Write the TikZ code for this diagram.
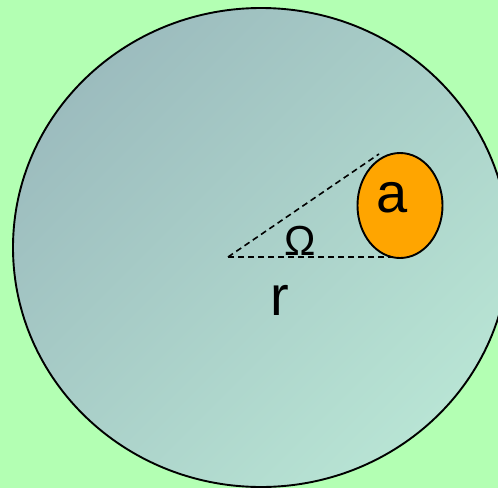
\documentclass[tikz,border=0pt]{standalone}
\usepackage{fontspec}
\setmainfont{Liberation Sans}
\usetikzlibrary{shapes.geometric}
\definecolor{bg}{RGB}{179,255,179}
\definecolor{discA}{RGB}{156,188,190}
\definecolor{discB}{RGB}{184,228,212}
\definecolor{orng}{RGB}{255,165,0}
\begin{document}
\begin{tikzpicture}[x=1pt,y=-1pt,
  outline/.style={draw=black,line width=1.9pt},
  guide/.style={draw=black,line width=1.6pt,dash pattern=on 6pt off 4pt},
  bigtxt/.style={font=\fontsize{56}{60}\selectfont,inner sep=0pt,anchor=base},
  midtxt/.style={font=\fontsize{42}{46}\selectfont,inner sep=0pt,anchor=base}]
\useasboundingbox (0,0) rectangle (498,488);
\fill[bg] (0,0) rectangle (498,488);
\begin{scope}
\clip (0,0) rectangle (498,488);
\shade[top color=discA,bottom color=discB,shading angle=45] (261,247.5) ellipse [x radius=248,y radius=239.5];
\draw[outline] (261,247.5) ellipse [x radius=248,y radius=239.5];
\end{scope}
\coordinate (apex) at (228,257);
\coordinate (tip) at (379,154);
\coordinate (foot) at (398,257);
\draw[guide] (apex) -- (tip);
\draw[guide] (apex) -- (foot);
\node[outline,fill=orng,ellipse,minimum width=85pt,minimum height=105pt,inner sep=0pt] (disk) at (400,205.5) {};
\node[bigtxt] (alab) at (392,212) {a};
\node[midtxt] (omega) at (300.5,255.5) {Ω};
\node[bigtxt] (rlab) at (280,315.5) {r};
\end{tikzpicture}
\end{document}
